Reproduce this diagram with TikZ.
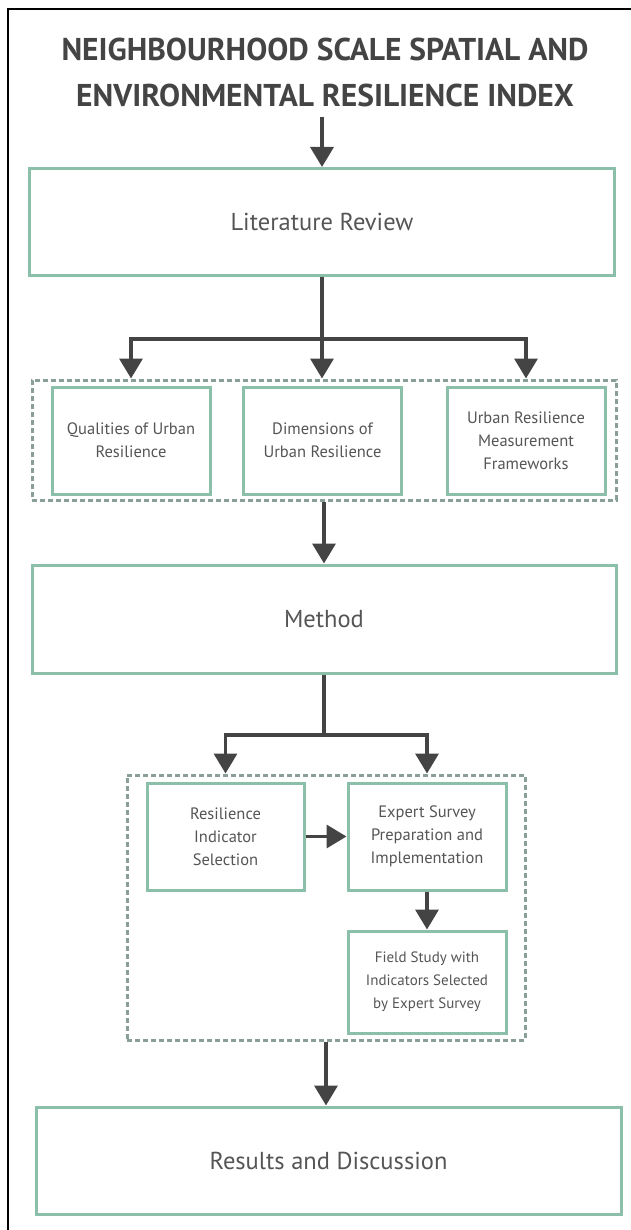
\documentclass[tikz,border=0pt]{standalone}
\usepackage{fontspec}
\setmainfont{PT Sans}
\usetikzlibrary{positioning,arrows.meta}
\definecolor{boxgreen}{HTML}{8CBFA9}
\definecolor{dashgrey}{HTML}{88A096}
\definecolor{ink}{HTML}{444444}
\definecolor{txt}{HTML}{555555}
\tikzstyle{bigbox}=[draw=boxgreen, line width=3pt, minimum width=585pt, minimum height=107pt, inner sep=0pt, text=txt, font=\fontsize{24.5}{28}\selectfont]
\tikzstyle{smallbox}=[draw=boxgreen, line width=3pt, minimum width=158pt, minimum height=107pt, inner sep=0pt, text=txt, align=center, font=\fontsize{16.5}{23}\selectfont]
\tikzstyle{group}=[draw=dashgrey, line width=3pt, dash pattern=on 5pt off 3pt, inner sep=0pt]
\tikzstyle{flow}=[-{Triangle[length=20pt,width=23pt]}, ink, line width=3.5pt]
\tikzstyle{link}=[ink, line width=3.5pt]
\tikzstyle{frame}=[black, line width=2pt]

\begin{document}
\begin{tikzpicture}[x=1pt, y=-1pt]
    \useasboundingbox (0,0) rectangle (631,1230);
    \draw[frame] (631,9) -- (8,9) -- (8,1230);
    % title
    \node[text=ink, align=center, inner sep=0pt, font=\fontsize{31.5}{46}\selectfont\bfseries] (title) at (325,72)
      {NEIGHBOURHOOD SCALE SPATIAL AND\\ENVIRONMENTAL RESILIENCE INDEX};
    % literature part
    \node[bigbox] (lit) at (322,222) {Literature Review};
    \node[group, minimum width=584pt, minimum height=120pt] (litgroup) at (324,440) {};
    \node[smallbox] (qual) at (131,440.5) {Qualities of Urban\\Resilience};
    \node[smallbox] (dims) at (322.5,440.5) {Dimensions of\\Urban Resilience};
    \node[smallbox] (frames) at (526,440.5) {Urban Resilience\\Measurement\\Frameworks};
    % method part
    \node[bigbox, minimum width=584pt, minimum height=108pt] (method) at (324,619) {Method};
    \node[group, minimum width=398pt, minimum height=265pt] (methgroup) at (326,907.5) {};
    \node[smallbox, minimum width=157pt] (select) at (225.5,836.5) {Resilience\\Indicator\\Selection};
    \node[smallbox] (survey) at (427,836.5) {Expert Survey\\Preparation and\\Implementation};
    \node[smallbox, minimum height=102pt, font=\fontsize{15}{23}\selectfont] (field) at (427,982)
      {Field Study with\\Indicators Selected\\by Expert Survey};
    \node[bigbox] (res) at (328.5,1160.5) {Results and Discussion};
    \coordinate (fork1) at (322,339);
    \coordinate (fork2) at (324,735);
    % connectors
    \draw[flow] (lit.north |- title.south) ++(0,10) -- (lit.north);
    \draw[link] (lit.south) -- (fork1);
    \draw[flow] (fork1) -| (qual.north |- litgroup.north);
    \draw[flow] (fork1) -| (frames.north |- litgroup.north);
    \draw[flow] (fork1) -- (fork1 |- litgroup.north);
    \draw[flow] (litgroup.south) -- (method.north);
    \draw[link] (method.south) -- (fork2);
    \draw[flow] (fork2) -| (select.north |- methgroup.north);
    \draw[flow] (fork2) -| (survey.north |- methgroup.north);
    \draw[flow] (select.east) -- (survey.west);
    \draw[flow] (survey.south) -- (field.north);
    \draw[flow] (methgroup.south) -- (methgroup.south |- res.north);
\end{tikzpicture}
\end{document}
